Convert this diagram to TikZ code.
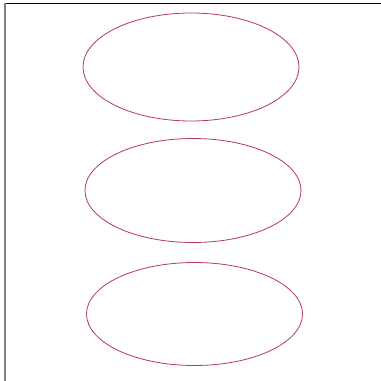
\documentclass[tikz,border=0pt]{standalone}
\usetikzlibrary{shapes.geometric}
\definecolor{ellcol}{RGB}{180,55,105}
\tikzset{
  oval/.style={draw=ellcol, line width=0.8pt, ellipse, inner sep=0pt, minimum width=216pt, minimum height=106pt},
  topframe/.style={draw=black, line width=1.5pt},
  leftframe/.style={draw=gray, line width=1.5pt}
}
\begin{document}
\begin{tikzpicture}[x=1pt,y=-1pt]
\useasboundingbox (0,0) rectangle (381,381);
\coordinate (tl) at (5,3.3);
\coordinate (tr) at (381,3.3);
\coordinate (bl) at (5,381);
\draw[topframe] (tl) -- (tr);
\draw[leftframe] (tl) -- (bl);
\node[oval, minimum width=216pt, minimum height=108pt] (e1) at (191,67) {};
\node[oval, minimum width=216pt, minimum height=104pt] (e2) at (193,190.5) {};
\node[oval, minimum width=216pt, minimum height=103pt] (e3) at (194.5,314) {};
\end{tikzpicture}
\end{document}
